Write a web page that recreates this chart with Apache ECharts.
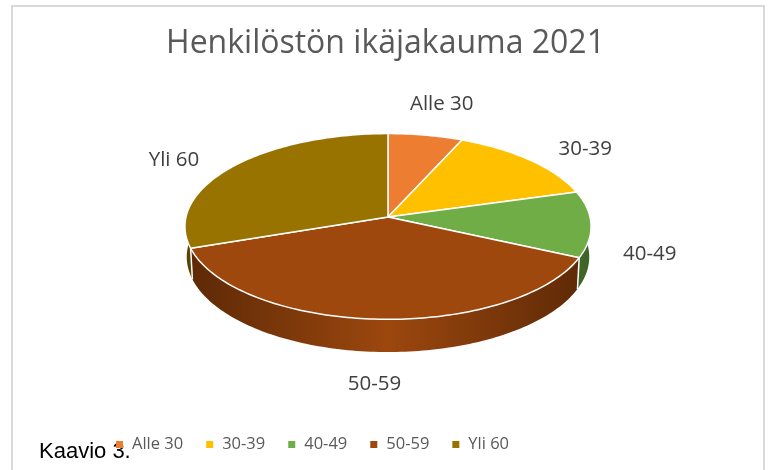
<!DOCTYPE html>
<html>
<head>
<meta charset="utf-8">
<script src="https://cdn.jsdelivr.net/npm/echarts@6/dist/echarts.min.js"></script>
<style>
html,body{margin:0;padding:0;background:#fff;}
#main{width:771px;height:470px;}
</style>
</head>
<body>
<div id="main"></div>
<script>
var categories = ['Alle 30', '30-39', '40-49', '50-59', 'Yli 60'];
var values = [8, 17, 14, 46, 37];

var topColors = ['#ED7D31', '#FFC000', '#70AD47', '#9E480E', '#997300'];
var sideEdge = ['#8c4a1c', '#997300', '#3e6327', '#5c2906', '#5a4400'];
var sideMid = ['#c86a28', '#d9a300', '#5b8c3a', '#9c470e', '#8a6800'];

// 3d look: pie centre on screen, screen radius, perspective/tilt, thickness
var CX = 388, CY = 217, SR = 202;
var KD = 0.1018, KY = 0.052, ST = 0.455, CT = 0.8905, TH = 0.17;

var total = 0;
for (var i = 0; i < values.length; i++) total += values[i];
var starts = [];
var acc = 0;
for (var i = 0; i < values.length; i++) {
	starts.push(acc / total * Math.PI * 2);
	acc += values[i];
}

function proj(a, r, h) {
	var X = r * Math.sin(a), Z = -r * Math.cos(a), Y = -h * TH;
	var den = 1 - KD * Z - KY * Y;
	return [CX + SR * X / den, CY + SR * (Z * ST - Y * CT) / den];
}

// box round the whole cake, used for the labels
var boxTop = proj(0, 1, 0)[1], boxBot = proj(Math.PI, 1, 1)[1];
var ECX = CX, ECY = (boxTop + boxBot) / 2, EA = SR, EB = (boxBot - boxTop) / 2;

function makeRender(idx) {
	return function (params, api) {
		var a0 = starts[idx];
		var a1 = a0 + api.value(0) / total * Math.PI * 2;
		var n = Math.max(2, Math.ceil((a1 - a0) / 0.02));
		var rimTop = [], rimBot = [];
		for (var k = 0; k <= n; k++) {
			var a = a0 + (a1 - a0) * k / n;
			rimTop.push(proj(a, 1, 0));
			rimBot.push(proj(a, 1, 1));
		}
		var wall = rimTop.concat(rimBot.slice().reverse());
		var face = [proj(0, 0, 0)].concat(rimTop);
		var children = [];
		children.push({
			type: 'polygon',
			z2: 1,
			shape: {points: wall},
			style: {
				fill: {
					type: 'linear', x: CX - SR, y: 0, x2: CX + SR, y2: 0, global: true,
					colorStops: [
						{offset: 0, color: sideEdge[idx]},
						{offset: 0.5, color: sideMid[idx]},
						{offset: 1, color: sideEdge[idx]}
					]
				},
				stroke: null
			}
		});
		if (Math.cos(a0) < -0.1) {
			children.push({
				type: 'line',
				z2: 2,
				shape: {x1: proj(a0, 1, 0)[0], y1: proj(a0, 1, 0)[1], x2: proj(a0, 1, 1)[0], y2: proj(a0, 1, 1)[1]},
				style: {stroke: '#ffffff', lineWidth: 1.5}
			});
		}
		children.push({
			type: 'polygon',
			z2: 3,
			shape: {points: face},
			style: {fill: topColors[idx], stroke: '#ffffff', lineWidth: 1.5, lineJoin: 'round'}
		});
		var m = (a0 + a1) / 2;
		children.push({
			type: 'text',
			z2: 4,
			x: ECX + 1.3 * EA * Math.sin(m),
			y: ECY - 1.3 * EB * Math.cos(m),
			style: {
				text: categories[idx],
				fill: '#404040',
				font: '20.5px "Open Sans"',
				align: 'center',
				verticalAlign: 'middle'
			}
		});
		return {type: 'group', children: children};
	};
}

var series = [];
for (var i = 0; i < categories.length; i++) {
	series.push({
		type: 'custom',
		name: categories[i],
		coordinateSystem: 'none',
		itemStyle: {color: topColors[i]},
		data: [values[i]],
		renderItem: makeRender(i),
		silent: true
	});
}

var myChart = echarts.init(document.getElementById('main'));
myChart.setOption({
	animation: false,
	title: {
		text: 'Henkilöstön ikäjakauma 2021',
		left: 'center',
		top: 19,
		textStyle: {fontFamily: 'Open Sans', fontSize: 32, lineHeight: 40, fontWeight: 'normal', color: '#595959'}
	},
	legend: {
		data: categories,
		left: 111,
		top: 431,
		icon: 'rect',
		itemWidth: 7,
		itemHeight: 7,
		itemGap: 23,
		textStyle: {fontFamily: 'Open Sans', fontSize: 16.5, color: '#595959', padding: [0, 0, 0, 4]}
	},
	graphic: [
		{
			type: 'rect',
			shape: {x: 12, y: 6, width: 752, height: 490},
			style: {fill: null, stroke: '#d9d9d9', lineWidth: 2}
		},
		{
			type: 'text',
			x: 39,
			y: 452,
			style: {text: 'Kaavio 3.', font: '22px "Liberation Sans"', fill: '#000000', align: 'left', verticalAlign: 'middle'}
		}
	],
	series: series
});
</script>
</body>
</html>
